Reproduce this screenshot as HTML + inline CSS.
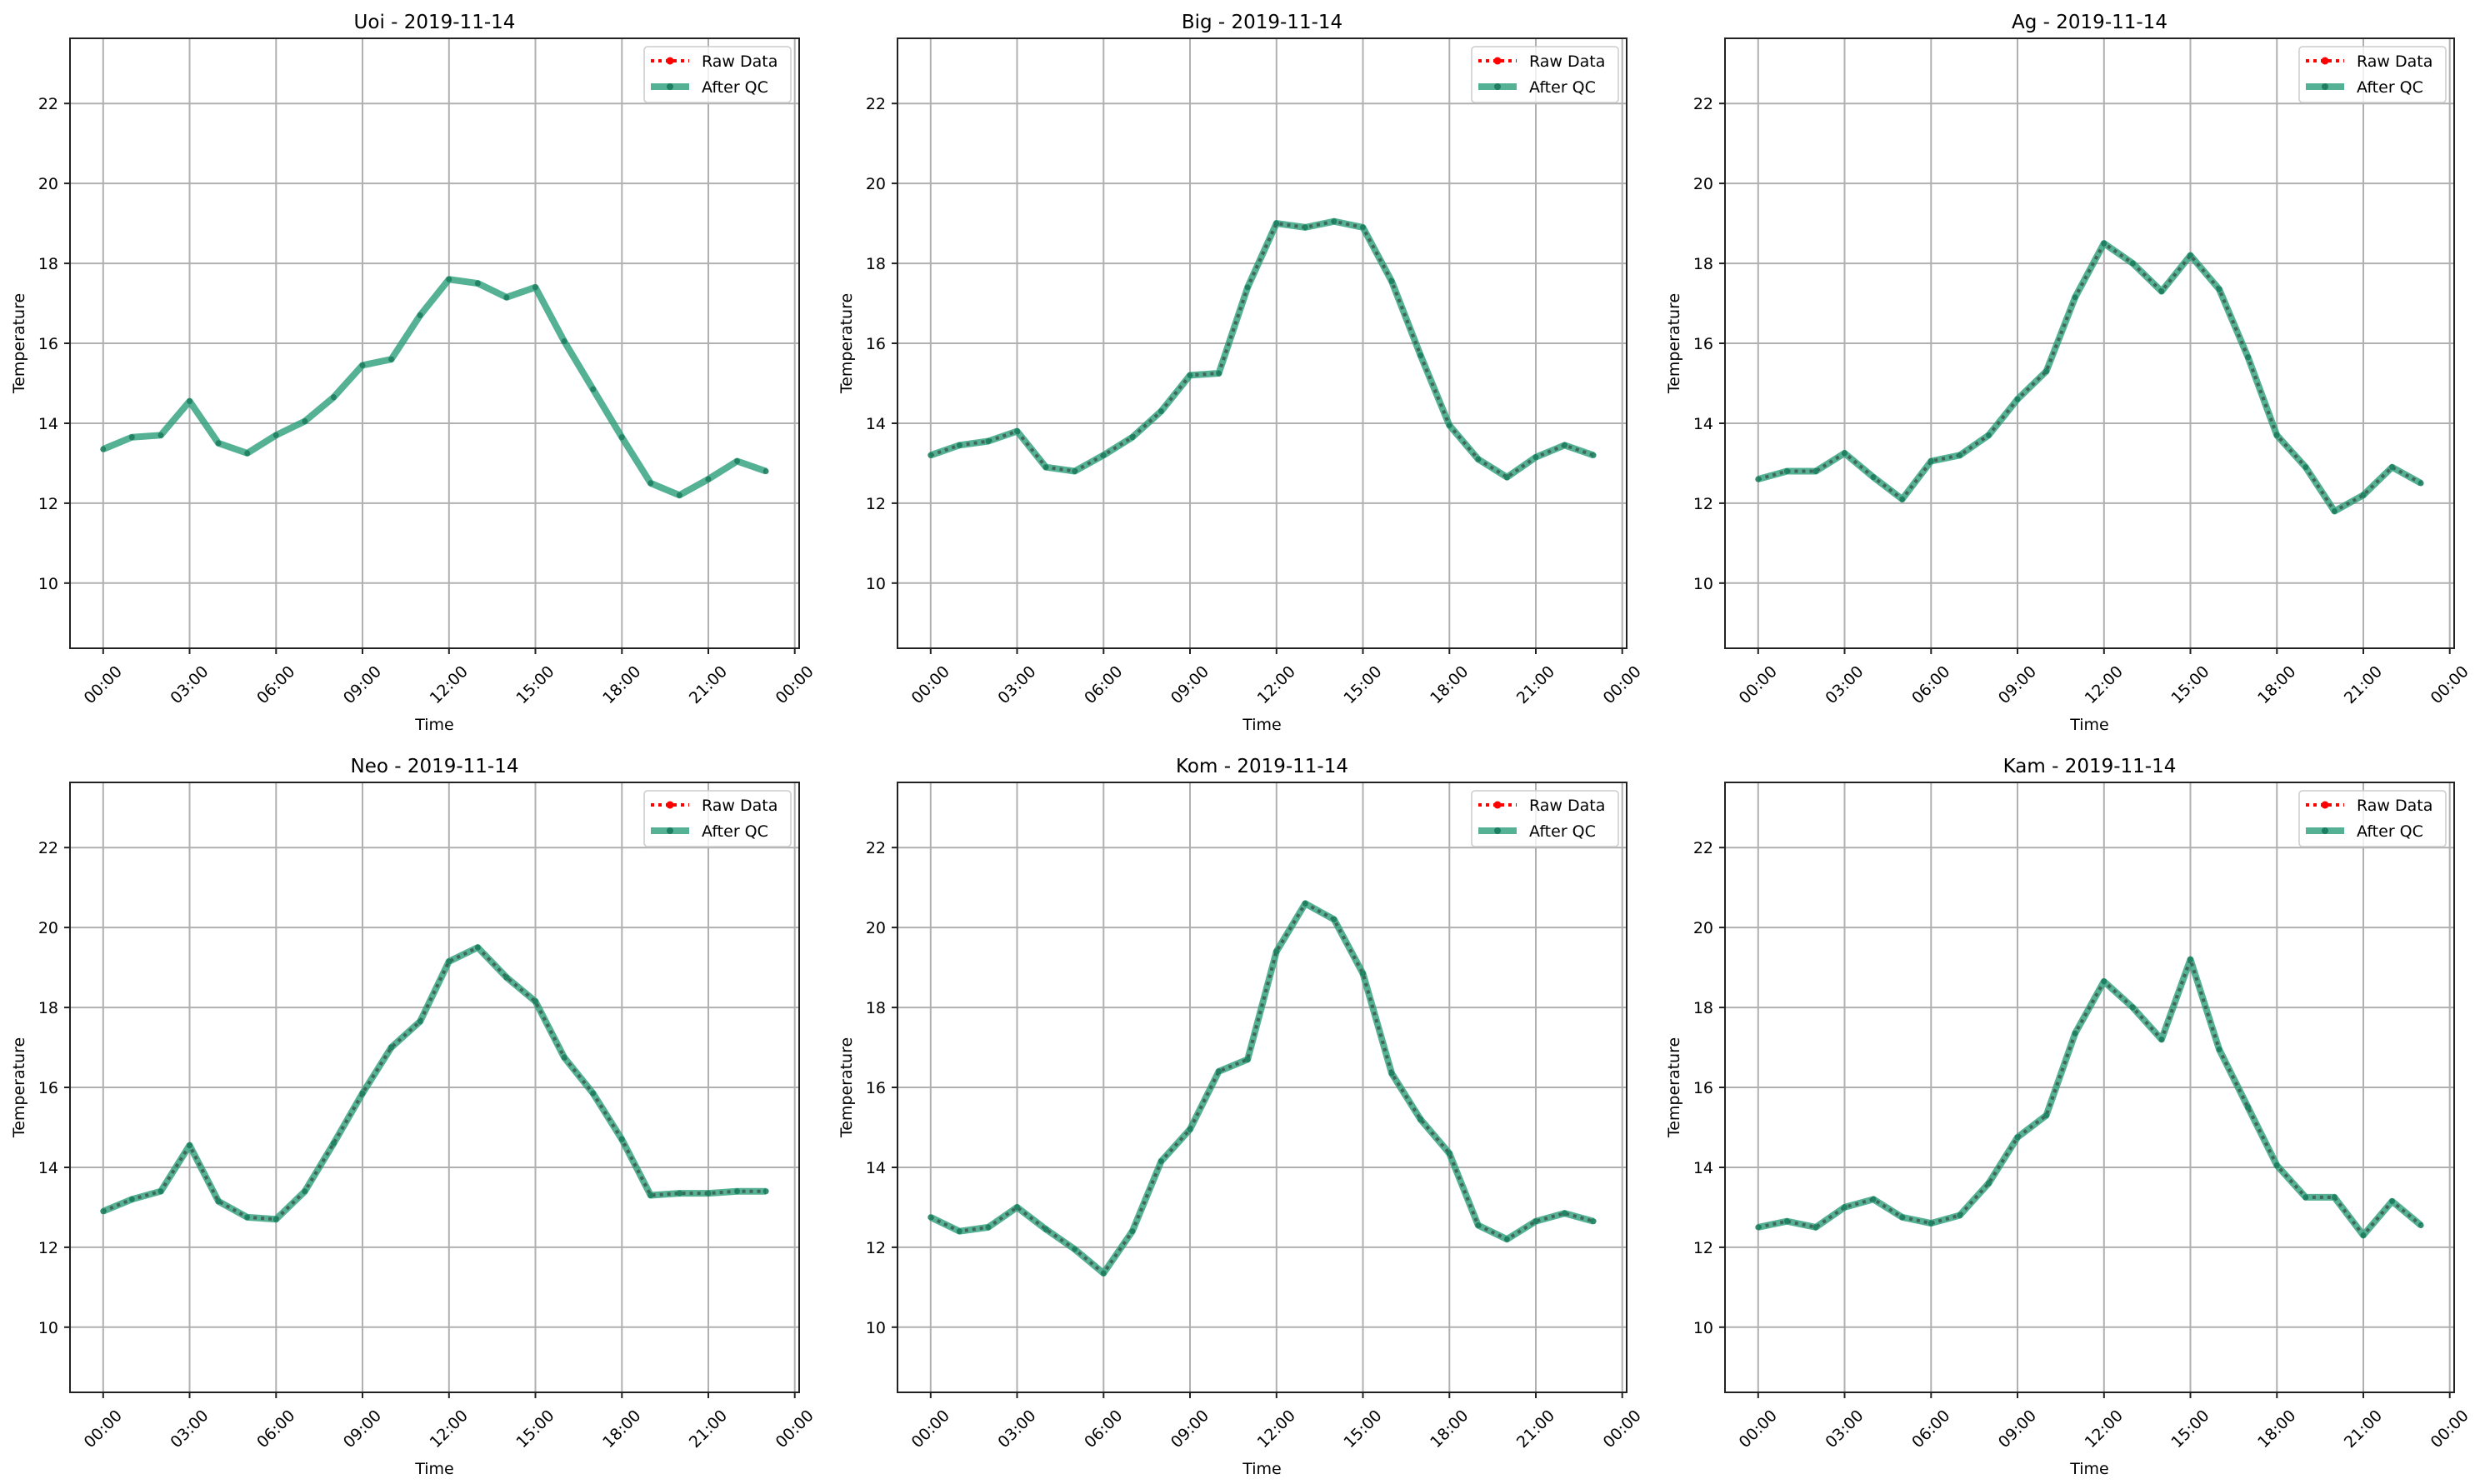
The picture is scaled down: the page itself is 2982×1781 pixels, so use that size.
<!DOCTYPE html>
<html><head><meta charset="utf-8"><style>
html,body{margin:0;padding:0;background:#fff;}
svg{display:block;font-family:"DejaVu Sans","Liberation Sans",sans-serif;}
.g line{stroke:#b0b0b0;stroke-width:2}
.tk line{stroke:#222;stroke-width:2}
.yl{font-size:19px;text-anchor:end;fill:#000}
.xl{font-size:19px;text-anchor:middle;dominant-baseline:central;fill:#000}
.ttl{font-size:23px;text-anchor:middle;fill:#000}
.lab{font-size:19px;text-anchor:middle;fill:#000}
.lg{font-size:19px;fill:#000}
.qc{fill:none;stroke:#2a9d78;stroke-opacity:.8;stroke-width:8;stroke-linejoin:round;vector-effect:non-scaling-stroke}
.raw{fill:none;stroke:#3d5a50;stroke-opacity:.85;stroke-width:4;stroke-dasharray:4 5;vector-effect:non-scaling-stroke}
.mk ellipse{fill:#1d7f61;opacity:.9}
</style></head><body>
<svg width="2982" height="1781" viewBox="0 0 2982 1781" xmlns="http://www.w3.org/2000/svg">
<defs>
<g id="frame">
<g class="g">
<line x1="39.8" y1="0" x2="39.8" y2="732"/><line x1="143.5" y1="0" x2="143.5" y2="732"/><line x1="247.3" y1="0" x2="247.3" y2="732"/><line x1="351" y1="0" x2="351" y2="732"/><line x1="454.8" y1="0" x2="454.8" y2="732"/><line x1="558.5" y1="0" x2="558.5" y2="732"/><line x1="662.3" y1="0" x2="662.3" y2="732"/><line x1="766" y1="0" x2="766" y2="732"/><line x1="869.7" y1="0" x2="869.7" y2="732"/>
<line x1="0" y1="78.2" x2="875" y2="78.2"/><line x1="0" y1="174.1" x2="875" y2="174.1"/><line x1="0" y1="270.1" x2="875" y2="270.1"/><line x1="0" y1="366" x2="875" y2="366"/><line x1="0" y1="462" x2="875" y2="462"/><line x1="0" y1="557.9" x2="875" y2="557.9"/><line x1="0" y1="653.8" x2="875" y2="653.8"/>
</g>
<g class="tk">
<line x1="39.8" y1="732" x2="39.8" y2="739"/><line x1="143.5" y1="732" x2="143.5" y2="739"/><line x1="247.3" y1="732" x2="247.3" y2="739"/><line x1="351" y1="732" x2="351" y2="739"/><line x1="454.8" y1="732" x2="454.8" y2="739"/><line x1="558.5" y1="732" x2="558.5" y2="739"/><line x1="662.3" y1="732" x2="662.3" y2="739"/><line x1="766" y1="732" x2="766" y2="739"/><line x1="869.7" y1="732" x2="869.7" y2="739"/>
<line x1="-7" y1="78.2" x2="0" y2="78.2"/><line x1="-7" y1="174.1" x2="0" y2="174.1"/><line x1="-7" y1="270.1" x2="0" y2="270.1"/><line x1="-7" y1="366" x2="0" y2="366"/><line x1="-7" y1="462" x2="0" y2="462"/><line x1="-7" y1="557.9" x2="0" y2="557.9"/><line x1="-7" y1="653.8" x2="0" y2="653.8"/>
</g>
</g>
<g id="axfg">
<rect x="0" y="0" width="875" height="732" fill="none" stroke="#222" stroke-width="2"/>
<rect x="689" y="10" width="176" height="67" rx="4" fill="#fff" fill-opacity=".8" stroke="#ccc" stroke-width="1.5"/>
<line x1="697" y1="27" x2="743" y2="27" stroke="#f00" stroke-width="4" stroke-dasharray="4 5"/>
<circle cx="720" cy="27" r="4.5" fill="#f00"/>
<line x1="697" y1="58" x2="743" y2="58" stroke="#2a9d78" stroke-opacity=".8" stroke-width="8"/>
<circle cx="720" cy="58" r="4" fill="#1d7f61"/>
<text class="lg" x="758" y="34">Raw Data</text><text class="lg" x="758" y="65">After QC</text>
<text class="yl" x="-14" y="85">22</text><text class="yl" x="-14" y="181">20</text><text class="yl" x="-14" y="277">18</text><text class="yl" x="-14" y="373">16</text><text class="yl" x="-14" y="469">14</text><text class="yl" x="-14" y="565">12</text><text class="yl" x="-14" y="661">10</text>
<text class="xl" x="39.8" y="776" transform="rotate(-45 39.8 776)">00:00</text><text class="xl" x="143.5" y="776" transform="rotate(-45 143.5 776)">03:00</text><text class="xl" x="247.3" y="776" transform="rotate(-45 247.3 776)">06:00</text><text class="xl" x="351" y="776" transform="rotate(-45 351 776)">09:00</text><text class="xl" x="454.8" y="776" transform="rotate(-45 454.8 776)">12:00</text><text class="xl" x="558.5" y="776" transform="rotate(-45 558.5 776)">15:00</text><text class="xl" x="662.3" y="776" transform="rotate(-45 662.3 776)">18:00</text><text class="xl" x="766" y="776" transform="rotate(-45 766 776)">21:00</text><text class="xl" x="869.7" y="776" transform="rotate(-45 869.7 776)">00:00</text>
<text class="lab" x="437.5" y="830">Time</text>
<text class="lab" x="0" y="0" transform="translate(-55,366) rotate(-90)">Temperature</text>
</g>
</defs>
<rect width="2982" height="1781" fill="#fff"/>

<g transform="translate(84,46)"><use href="#frame"/><g transform="translate(39.77,1133.5) scale(34.58,-47.97)">
<polyline class="qc" points="0,13.35 1,13.65 2,13.7 3,14.55 4,13.5 5,13.25 6,13.7 7,14.05 8,14.65 9,15.45 10,15.6 11,16.7 12,17.6 13,17.5 14,17.15 15,17.4 16,16.05 17,14.85 18,13.65 19,12.5 20,12.2 21,12.6 22,13.05 23,12.8"/>
<g class="mk"><ellipse cx="0" cy="13.35" rx=".1" ry=".075"/><ellipse cx="1" cy="13.65" rx=".1" ry=".075"/><ellipse cx="2" cy="13.7" rx=".1" ry=".075"/><ellipse cx="3" cy="14.55" rx=".1" ry=".075"/><ellipse cx="4" cy="13.5" rx=".1" ry=".075"/><ellipse cx="5" cy="13.25" rx=".1" ry=".075"/><ellipse cx="6" cy="13.7" rx=".1" ry=".075"/><ellipse cx="7" cy="14.05" rx=".1" ry=".075"/><ellipse cx="8" cy="14.65" rx=".1" ry=".075"/><ellipse cx="9" cy="15.45" rx=".1" ry=".075"/><ellipse cx="10" cy="15.6" rx=".1" ry=".075"/><ellipse cx="11" cy="16.7" rx=".1" ry=".075"/><ellipse cx="12" cy="17.6" rx=".1" ry=".075"/><ellipse cx="13" cy="17.5" rx=".1" ry=".075"/><ellipse cx="14" cy="17.15" rx=".1" ry=".075"/><ellipse cx="15" cy="17.4" rx=".1" ry=".075"/><ellipse cx="16" cy="16.05" rx=".1" ry=".075"/><ellipse cx="17" cy="14.85" rx=".1" ry=".075"/><ellipse cx="18" cy="13.65" rx=".1" ry=".075"/><ellipse cx="19" cy="12.5" rx=".1" ry=".075"/><ellipse cx="20" cy="12.2" rx=".1" ry=".075"/><ellipse cx="21" cy="12.6" rx=".1" ry=".075"/><ellipse cx="22" cy="13.05" rx=".1" ry=".075"/><ellipse cx="23" cy="12.8" rx=".1" ry=".075"/></g>
</g><use href="#axfg"/>
<text class="ttl" x="437.5" y="-12">Uoi - 2019-11-14</text>
</g>

<g transform="translate(1077,46)"><use href="#frame"/><g transform="translate(39.77,1133.5) scale(34.58,-47.97)">
<polyline class="qc" points="0,13.2 1,13.45 2,13.55 3,13.8 4,12.9 5,12.8 6,13.2 7,13.65 8,14.3 9,15.2 10,15.25 11,17.4 12,19.0 13,18.9 14,19.05 15,18.9 16,17.55 17,15.7 18,13.95 19,13.1 20,12.65 21,13.15 22,13.45 23,13.2"/>
<polyline class="raw" points="0,13.2 1,13.45 2,13.55 3,13.8 4,12.9 5,12.8 6,13.2 7,13.65 8,14.3 9,15.2 10,15.25 11,17.4 12,19.0 13,18.9 14,19.05 15,18.9 16,17.55 17,15.7 18,13.95 19,13.1 20,12.65 21,13.15 22,13.45 23,13.2"/>
<g class="mk"><ellipse cx="0" cy="13.2" rx=".1" ry=".075"/><ellipse cx="1" cy="13.45" rx=".1" ry=".075"/><ellipse cx="2" cy="13.55" rx=".1" ry=".075"/><ellipse cx="3" cy="13.8" rx=".1" ry=".075"/><ellipse cx="4" cy="12.9" rx=".1" ry=".075"/><ellipse cx="5" cy="12.8" rx=".1" ry=".075"/><ellipse cx="6" cy="13.2" rx=".1" ry=".075"/><ellipse cx="7" cy="13.65" rx=".1" ry=".075"/><ellipse cx="8" cy="14.3" rx=".1" ry=".075"/><ellipse cx="9" cy="15.2" rx=".1" ry=".075"/><ellipse cx="10" cy="15.25" rx=".1" ry=".075"/><ellipse cx="11" cy="17.4" rx=".1" ry=".075"/><ellipse cx="12" cy="19.0" rx=".1" ry=".075"/><ellipse cx="13" cy="18.9" rx=".1" ry=".075"/><ellipse cx="14" cy="19.05" rx=".1" ry=".075"/><ellipse cx="15" cy="18.9" rx=".1" ry=".075"/><ellipse cx="16" cy="17.55" rx=".1" ry=".075"/><ellipse cx="17" cy="15.7" rx=".1" ry=".075"/><ellipse cx="18" cy="13.95" rx=".1" ry=".075"/><ellipse cx="19" cy="13.1" rx=".1" ry=".075"/><ellipse cx="20" cy="12.65" rx=".1" ry=".075"/><ellipse cx="21" cy="13.15" rx=".1" ry=".075"/><ellipse cx="22" cy="13.45" rx=".1" ry=".075"/><ellipse cx="23" cy="13.2" rx=".1" ry=".075"/></g>
</g><use href="#axfg"/>
<text class="ttl" x="437.5" y="-12">Big - 2019-11-14</text>
</g>

<g transform="translate(2070,46)"><use href="#frame"/><g transform="translate(39.77,1133.5) scale(34.58,-47.97)">
<polyline class="qc" points="0,12.6 1,12.8 2,12.8 3,13.25 4,12.65 5,12.1 6,13.05 7,13.2 8,13.7 9,14.6 10,15.3 11,17.15 12,18.5 13,18.0 14,17.3 15,18.2 16,17.35 17,15.65 18,13.7 19,12.9 20,11.8 21,12.2 22,12.9 23,12.5"/>
<polyline class="raw" points="0,12.6 1,12.8 2,12.8 3,13.25 4,12.65 5,12.1 6,13.05 7,13.2 8,13.7 9,14.6 10,15.3 11,17.15 12,18.5 13,18.0 14,17.3 15,18.2 16,17.35 17,15.65 18,13.7 19,12.9 20,11.8 21,12.2 22,12.9 23,12.5"/>
<g class="mk"><ellipse cx="0" cy="12.6" rx=".1" ry=".075"/><ellipse cx="1" cy="12.8" rx=".1" ry=".075"/><ellipse cx="2" cy="12.8" rx=".1" ry=".075"/><ellipse cx="3" cy="13.25" rx=".1" ry=".075"/><ellipse cx="4" cy="12.65" rx=".1" ry=".075"/><ellipse cx="5" cy="12.1" rx=".1" ry=".075"/><ellipse cx="6" cy="13.05" rx=".1" ry=".075"/><ellipse cx="7" cy="13.2" rx=".1" ry=".075"/><ellipse cx="8" cy="13.7" rx=".1" ry=".075"/><ellipse cx="9" cy="14.6" rx=".1" ry=".075"/><ellipse cx="10" cy="15.3" rx=".1" ry=".075"/><ellipse cx="11" cy="17.15" rx=".1" ry=".075"/><ellipse cx="12" cy="18.5" rx=".1" ry=".075"/><ellipse cx="13" cy="18.0" rx=".1" ry=".075"/><ellipse cx="14" cy="17.3" rx=".1" ry=".075"/><ellipse cx="15" cy="18.2" rx=".1" ry=".075"/><ellipse cx="16" cy="17.35" rx=".1" ry=".075"/><ellipse cx="17" cy="15.65" rx=".1" ry=".075"/><ellipse cx="18" cy="13.7" rx=".1" ry=".075"/><ellipse cx="19" cy="12.9" rx=".1" ry=".075"/><ellipse cx="20" cy="11.8" rx=".1" ry=".075"/><ellipse cx="21" cy="12.2" rx=".1" ry=".075"/><ellipse cx="22" cy="12.9" rx=".1" ry=".075"/><ellipse cx="23" cy="12.5" rx=".1" ry=".075"/></g>
</g><use href="#axfg"/>
<text class="ttl" x="437.5" y="-12">Ag - 2019-11-14</text>
</g>

<g transform="translate(84,939)"><use href="#frame"/><g transform="translate(39.77,1133.5) scale(34.58,-47.97)">
<polyline class="qc" points="0,12.9 1,13.2 2,13.4 3,14.55 4,13.15 5,12.75 6,12.7 7,13.4 8,14.6 9,15.85 10,17.0 11,17.65 12,19.15 13,19.5 14,18.75 15,18.15 16,16.75 17,15.85 18,14.7 19,13.3 20,13.35 21,13.35 22,13.4 23,13.4"/>
<polyline class="raw" points="0,12.9 1,13.2 2,13.4 3,14.55 4,13.15 5,12.75 6,12.7 7,13.4 8,14.6 9,15.85 10,17.0 11,17.65 12,19.15 13,19.5 14,18.75 15,18.15 16,16.75 17,15.85 18,14.7 19,13.3 20,13.35 21,13.35 22,13.4 23,13.4"/>
<g class="mk"><ellipse cx="0" cy="12.9" rx=".1" ry=".075"/><ellipse cx="1" cy="13.2" rx=".1" ry=".075"/><ellipse cx="2" cy="13.4" rx=".1" ry=".075"/><ellipse cx="3" cy="14.55" rx=".1" ry=".075"/><ellipse cx="4" cy="13.15" rx=".1" ry=".075"/><ellipse cx="5" cy="12.75" rx=".1" ry=".075"/><ellipse cx="6" cy="12.7" rx=".1" ry=".075"/><ellipse cx="7" cy="13.4" rx=".1" ry=".075"/><ellipse cx="8" cy="14.6" rx=".1" ry=".075"/><ellipse cx="9" cy="15.85" rx=".1" ry=".075"/><ellipse cx="10" cy="17.0" rx=".1" ry=".075"/><ellipse cx="11" cy="17.65" rx=".1" ry=".075"/><ellipse cx="12" cy="19.15" rx=".1" ry=".075"/><ellipse cx="13" cy="19.5" rx=".1" ry=".075"/><ellipse cx="14" cy="18.75" rx=".1" ry=".075"/><ellipse cx="15" cy="18.15" rx=".1" ry=".075"/><ellipse cx="16" cy="16.75" rx=".1" ry=".075"/><ellipse cx="17" cy="15.85" rx=".1" ry=".075"/><ellipse cx="18" cy="14.7" rx=".1" ry=".075"/><ellipse cx="19" cy="13.3" rx=".1" ry=".075"/><ellipse cx="20" cy="13.35" rx=".1" ry=".075"/><ellipse cx="21" cy="13.35" rx=".1" ry=".075"/><ellipse cx="22" cy="13.4" rx=".1" ry=".075"/><ellipse cx="23" cy="13.4" rx=".1" ry=".075"/></g>
</g><use href="#axfg"/>
<text class="ttl" x="437.5" y="-12">Neo - 2019-11-14</text>
</g>

<g transform="translate(1077,939)"><use href="#frame"/><g transform="translate(39.77,1133.5) scale(34.58,-47.97)">
<polyline class="qc" points="0,12.75 1,12.4 2,12.5 3,13.0 4,12.45 5,11.95 6,11.35 7,12.4 8,14.15 9,14.95 10,16.4 11,16.7 12,19.4 13,20.6 14,20.2 15,18.85 16,16.35 17,15.2 18,14.35 19,12.55 20,12.2 21,12.65 22,12.85 23,12.65"/>
<polyline class="raw" points="0,12.75 1,12.4 2,12.5 3,13.0 4,12.45 5,11.95 6,11.35 7,12.4 8,14.15 9,14.95 10,16.4 11,16.7 12,19.4 13,20.6 14,20.2 15,18.85 16,16.35 17,15.2 18,14.35 19,12.55 20,12.2 21,12.65 22,12.85 23,12.65"/>
<g class="mk"><ellipse cx="0" cy="12.75" rx=".1" ry=".075"/><ellipse cx="1" cy="12.4" rx=".1" ry=".075"/><ellipse cx="2" cy="12.5" rx=".1" ry=".075"/><ellipse cx="3" cy="13.0" rx=".1" ry=".075"/><ellipse cx="4" cy="12.45" rx=".1" ry=".075"/><ellipse cx="5" cy="11.95" rx=".1" ry=".075"/><ellipse cx="6" cy="11.35" rx=".1" ry=".075"/><ellipse cx="7" cy="12.4" rx=".1" ry=".075"/><ellipse cx="8" cy="14.15" rx=".1" ry=".075"/><ellipse cx="9" cy="14.95" rx=".1" ry=".075"/><ellipse cx="10" cy="16.4" rx=".1" ry=".075"/><ellipse cx="11" cy="16.7" rx=".1" ry=".075"/><ellipse cx="12" cy="19.4" rx=".1" ry=".075"/><ellipse cx="13" cy="20.6" rx=".1" ry=".075"/><ellipse cx="14" cy="20.2" rx=".1" ry=".075"/><ellipse cx="15" cy="18.85" rx=".1" ry=".075"/><ellipse cx="16" cy="16.35" rx=".1" ry=".075"/><ellipse cx="17" cy="15.2" rx=".1" ry=".075"/><ellipse cx="18" cy="14.35" rx=".1" ry=".075"/><ellipse cx="19" cy="12.55" rx=".1" ry=".075"/><ellipse cx="20" cy="12.2" rx=".1" ry=".075"/><ellipse cx="21" cy="12.65" rx=".1" ry=".075"/><ellipse cx="22" cy="12.85" rx=".1" ry=".075"/><ellipse cx="23" cy="12.65" rx=".1" ry=".075"/></g>
</g><use href="#axfg"/>
<text class="ttl" x="437.5" y="-12">Kom - 2019-11-14</text>
</g>

<g transform="translate(2070,939)"><use href="#frame"/><g transform="translate(39.77,1133.5) scale(34.58,-47.97)">
<polyline class="qc" points="0,12.5 1,12.65 2,12.5 3,13.0 4,13.2 5,12.75 6,12.6 7,12.8 8,13.6 9,14.75 10,15.3 11,17.35 12,18.65 13,18.0 14,17.2 15,19.2 16,16.95 17,15.5 18,14.05 19,13.25 20,13.25 21,12.3 22,13.15 23,12.55"/>
<polyline class="raw" points="0,12.5 1,12.65 2,12.5 3,13.0 4,13.2 5,12.75 6,12.6 7,12.8 8,13.6 9,14.75 10,15.3 11,17.35 12,18.65 13,18.0 14,17.2 15,19.2 16,16.95 17,15.5 18,14.05 19,13.25 20,13.25 21,12.3 22,13.15 23,12.55"/>
<g class="mk"><ellipse cx="0" cy="12.5" rx=".1" ry=".075"/><ellipse cx="1" cy="12.65" rx=".1" ry=".075"/><ellipse cx="2" cy="12.5" rx=".1" ry=".075"/><ellipse cx="3" cy="13.0" rx=".1" ry=".075"/><ellipse cx="4" cy="13.2" rx=".1" ry=".075"/><ellipse cx="5" cy="12.75" rx=".1" ry=".075"/><ellipse cx="6" cy="12.6" rx=".1" ry=".075"/><ellipse cx="7" cy="12.8" rx=".1" ry=".075"/><ellipse cx="8" cy="13.6" rx=".1" ry=".075"/><ellipse cx="9" cy="14.75" rx=".1" ry=".075"/><ellipse cx="10" cy="15.3" rx=".1" ry=".075"/><ellipse cx="11" cy="17.35" rx=".1" ry=".075"/><ellipse cx="12" cy="18.65" rx=".1" ry=".075"/><ellipse cx="13" cy="18.0" rx=".1" ry=".075"/><ellipse cx="14" cy="17.2" rx=".1" ry=".075"/><ellipse cx="15" cy="19.2" rx=".1" ry=".075"/><ellipse cx="16" cy="16.95" rx=".1" ry=".075"/><ellipse cx="17" cy="15.5" rx=".1" ry=".075"/><ellipse cx="18" cy="14.05" rx=".1" ry=".075"/><ellipse cx="19" cy="13.25" rx=".1" ry=".075"/><ellipse cx="20" cy="13.25" rx=".1" ry=".075"/><ellipse cx="21" cy="12.3" rx=".1" ry=".075"/><ellipse cx="22" cy="13.15" rx=".1" ry=".075"/><ellipse cx="23" cy="12.55" rx=".1" ry=".075"/></g>
</g><use href="#axfg"/>
<text class="ttl" x="437.5" y="-12">Kam - 2019-11-14</text>
</g>
</svg>
</body></html>
